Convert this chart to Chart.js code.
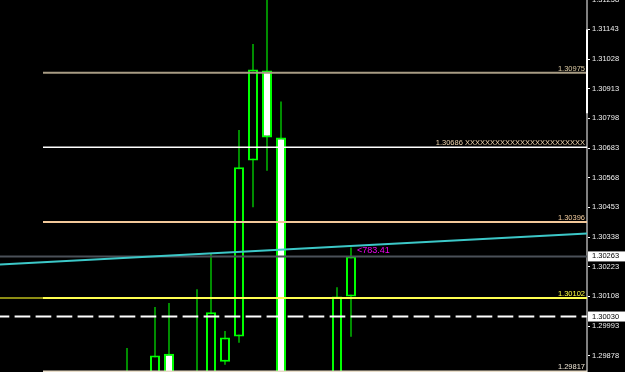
<!DOCTYPE html>
<html>
<head>
<meta charset="utf-8">
<script src="https://cdn.jsdelivr.net/npm/chart.js@4.4.1/dist/chart.umd.min.js"></script>
<style>
  html, body { margin: 0; padding: 0; background: #000; }
  #box { width: 625px; height: 372px; position: relative; }
</style>
</head>
<body>
<div id="box"><canvas id="price-chart"></canvas></div>
<script>
// Candles (slot index, OHLC)
const slots  = [0, 1, 2, 3, 4, 5, 6, 7, 8, 9, 10, 11, 12, 13, 14, 15, 16];
const opens  = [1.29800, 1.29780, 1.29760, 1.29886, 1.29730, 1.29700, 1.29790, 1.29855, 1.29953, 1.30635, 1.30984, 1.30724, 1.29760, 1.29650, 1.29700, 1.29760, 1.30108];
const highs  = [1.29908, 1.29800, 1.30067, 1.30082, 1.29800, 1.30136, 1.30272, 1.29974, 1.30753, 1.31086, 1.31300, 1.30864, 1.29800, 1.29790, 1.29805, 1.30144, 1.30298];
const lows   = [1.29750, 1.29720, 1.29740, 1.29700, 1.29650, 1.29640, 1.29760, 1.29843, 1.29928, 1.30454, 1.30595, 1.29700, 1.29600, 1.29580, 1.29620, 1.29700, 1.29952];
const closes = [1.29780, 1.29760, 1.29879, 1.29730, 1.29700, 1.29790, 1.30047, 1.29949, 1.30609, 1.30988, 1.30724, 1.29760, 1.29650, 1.29700, 1.29760, 1.30108, 1.30263];

// Horizontal levels (start at slot -6)
const levelPrices = [1.30975, 1.30686, 1.30396, 1.30102, 1.29817];
const levelTexts  = ['1.30975', '1.30686 ' + 'X'.repeat(24), '1.30396', '1.30102', '1.29817'];
const levelColors = ['#a89c84', '#ffffff', '#f2c89a', '#ffff50', '#e8dcc8'];
const levelTextColors = ['#dccba4', '#ecd2ac', '#f2cc9e', '#ffff40', '#efe6d6'];
const levelStart = -6;

const bidPrice = 1.30263;
const dashPrice = 1.30030;
const trendPrices = [1.30232, 1.30352];
const profitText = '<783.41';
const profitPrice = 1.30285;

const tickValues = [1.31258, 1.31143, 1.31028, 1.30913, 1.30798, 1.30683, 1.30568,
                    1.30453, 1.30338, 1.30223, 1.30108, 1.29993, 1.29878];

const xMin = -127 / 14;
const xMax = xMin + 587 / 14;
const yMin = 1.29815;
const yMax = 1.31257;

const wickData = slots.map((s, i) => ({ x: s, y: [lows[i], highs[i]] }));
const bodyData = slots.map((s, i) => ({ x: s, y: [opens[i], closes[i]] }));
const bodyFill = slots.map((s, i) => closes[i] >= opens[i] ? '#000000' : '#ffffff');

function hline(price, from, color, width, dash) {
    return {
        type: 'line',
        data: [{ x: from, y: price }, { x: xMax, y: price }],
        borderColor: color,
        borderWidth: width,
        borderDash: dash || [],
        borderDashOffset: dash ? 6.4 : 0,
        pointRadius: 0,
        order: 0
    };
}

const overlay = {
    id: 'overlay',
    afterDatasetsDraw(chart) {
        const ctx = chart.ctx, x = chart.scales.x, y = chart.scales.y, area = chart.chartArea;
        ctx.save();
        ctx.beginPath();
        ctx.rect(area.left, area.top, area.right - area.left - 1, area.bottom - area.top);
        ctx.clip();
        ctx.font = '7.5px "Liberation Sans"';
        ctx.textAlign = 'right';
        ctx.textBaseline = 'alphabetic';
        levelPrices.forEach((p, i) => {
            ctx.fillStyle = levelTextColors[i];
            ctx.fillText(levelTexts[i], area.right - 2, y.getPixelForValue(p) - 2);
        });
        ctx.font = '9px "Liberation Sans"';
        ctx.textAlign = 'left';
        ctx.textBaseline = 'middle';
        ctx.fillStyle = '#f000f0';
        ctx.fillText(profitText, x.getPixelForValue(16) + 6, y.getPixelForValue(profitPrice));
        ctx.restore();

        // price boxes on the axis
        ctx.save();
        ctx.font = '7.5px "Liberation Sans"';
        [bidPrice, dashPrice].forEach(p => {
            const py = y.getPixelForValue(p);
            ctx.fillStyle = '#ffffff';
            ctx.fillRect(area.right + 1, py - 5, 37, 10);
            ctx.fillStyle = '#000000';
            ctx.textAlign = 'left';
            ctx.textBaseline = 'middle';
            ctx.fillText(p.toFixed(5), area.right + 5, py);
        });
        // white part of the axis line
        const t = y.getPixelForValue(1.31143), b = y.getPixelForValue(1.30818);
        ctx.fillStyle = '#ffffff';
        ctx.fillRect(area.right - 1, t, 2, b - t);
        ctx.restore();
    }
};

const datasets = [
    hline(trendPrices[0], xMin, '#3cc8c8', 2),
    hline(bidPrice, xMin, '#4a5058', 2),
    hline(dashPrice, xMin, '#ffffff', 2, [15.7, 5.3]),
    hline(levelPrices[0], levelStart, levelColors[0], 2),
    hline(levelPrices[1], levelStart, levelColors[1], 1.5),
    hline(levelPrices[2], levelStart, levelColors[2], 2),
    hline(levelPrices[3], levelStart, levelColors[3], 2),
    hline(levelPrices[3], xMin, '#8c8c14', 2),
    hline(levelPrices[4], levelStart, levelColors[4], 2),
    {
        type: 'bar',
        data: bodyData,
        backgroundColor: bodyFill,
        borderColor: '#00ff00',
        borderWidth: 2,
        borderSkipped: false,
        barThickness: 10,
        grouped: false,
        inflateAmount: 0,
        order: 1
    },
    {
        type: 'bar',
        data: wickData,
        backgroundColor: '#008c00',
        borderWidth: 0,
        barThickness: 2,
        grouped: false,
        inflateAmount: 0,
        order: 2
    }
];
// trend line runs corner to corner
datasets[0].data = [{ x: xMin, y: trendPrices[0] }, { x: xMax, y: trendPrices[1] }];

new Chart(document.getElementById('price-chart'), {
    type: 'bar',
    data: { datasets: datasets },
    options: {
        animation: false,
        responsive: true,
        maintainAspectRatio: false,
        devicePixelRatio: 1,
        layout: { padding: 0 },
        plugins: { legend: { display: false }, tooltip: { enabled: false } },
        scales: {
            x: { type: 'linear', min: xMin, max: xMax, offset: false, display: false },
            y: {
                position: 'right',
                min: yMin,
                max: yMax,
                afterBuildTicks: s => { s.ticks = tickValues.map(v => ({ value: v })); },
                afterFit: s => { s.width = 38; s.paddingTop = 0; s.paddingBottom = 0; },
                border: { color: '#808080', width: 2 },
                grid: { drawOnChartArea: false, color: '#ffffff', tickLength: 3 },
                ticks: {
                    color: '#f0f0f0',
                    font: { family: 'Liberation Sans', size: 7.5 },
                    padding: 2,
                    autoSkip: false,
                    callback: v => v.toFixed(5)
                }
            }
        }
    },
    plugins: [overlay]
});
</script>
</body>
</html>
